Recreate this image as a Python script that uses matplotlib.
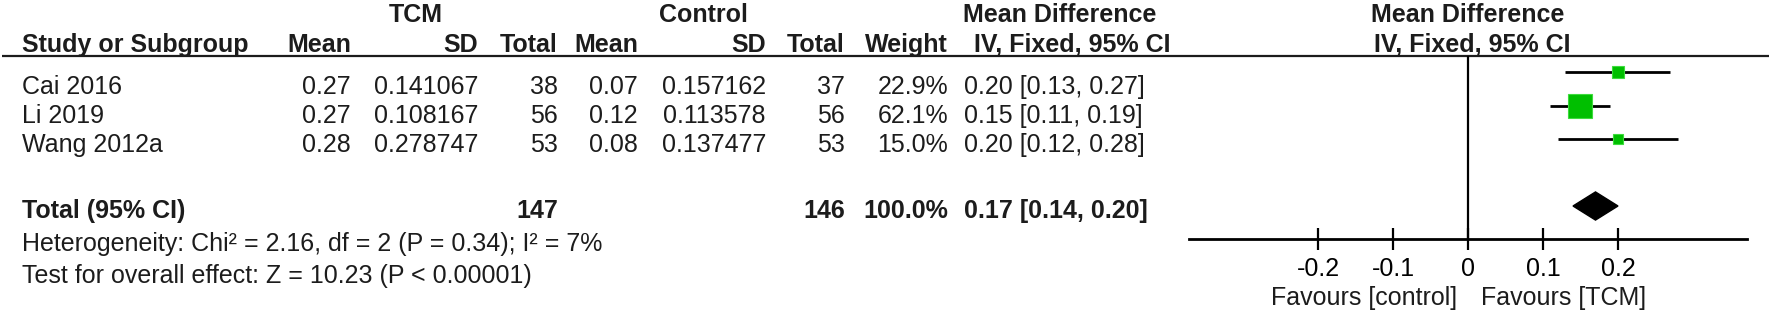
import matplotlib
matplotlib.use("Agg")
import matplotlib.pyplot as plt
import matplotlib.transforms as mtransforms
from matplotlib.patches import Polygon

plt.rcParams['font.family'] = ['Liberation Sans', 'DejaVu Sans']

# data
studies = ["Cai 2016", "Li 2019", "Wang 2012a"]
tcm_mean = [0.27, 0.27, 0.28]
tcm_sd = [0.141067, 0.108167, 0.278747]
tcm_n = [38, 56, 53]
ctl_mean = [0.07, 0.12, 0.08]
ctl_sd = [0.157162, 0.113578, 0.137477]
ctl_n = [37, 56, 53]
weights = [22.9, 62.1, 15.0]
md = [0.20, 0.15, 0.20]
md_lo = [0.13, 0.11, 0.12]
md_hi = [0.27, 0.19, 0.28]
total_md, total_lo, total_hi = 0.17, 0.14, 0.20
heterogeneity = "Heterogeneity: Chi² = 2.16, df = 2 (P = 0.34); I² = 7%"
overall = "Test for overall effect: Z = 10.23 (P < 0.00001)"
xticks = [-0.2, -0.1, 0, 0.1, 0.2]
xtick_labels = ["-0.2", "-0.1", "0", "0.1", "0.2"]

W, H = 1772, 311
fig = plt.figure(figsize=(W / 100, H / 100), dpi=100)

# background axes in pixel coords for the table
bg = fig.add_axes([0, 0, 1, 1])
bg.set_xlim(0, W)
bg.set_ylim(H, 0)
bg.axis("off")

FS = 18
TXT = "#1c1c1c"
GREEN = "#00bf00"

# column right edges / anchors (pixels)
col_x = {"tm": 351, "tsd": 478, "tn": 558, "cm": 638, "csd": 766, "cn": 845, "w": 948, "ci": 964}

def put(x, y, s, ha="left", bold=False):
    bg.text(x, y, s, ha=ha, va="center", fontsize=FS, color=TXT,
            fontweight="bold" if bold else "normal")

# header rows
y_h1, y_h2 = 15, 45
put(416, y_h1, "TCM", ha="center", bold=True)
put(703, y_h1, "Control", ha="center", bold=True)
put(1060, y_h1, "Mean Difference", ha="center", bold=True)
put(1468, y_h1, "Mean Difference", ha="center", bold=True)
put(22, y_h2, "Study or Subgroup", bold=True)
put(col_x["tm"], y_h2, "Mean", ha="right", bold=True)
put(col_x["tsd"], y_h2, "SD", ha="right", bold=True)
put(col_x["tn"], y_h2, "Total", ha="right", bold=True)
put(col_x["cm"], y_h2, "Mean", ha="right", bold=True)
put(col_x["csd"], y_h2, "SD", ha="right", bold=True)
put(col_x["cn"], y_h2, "Total", ha="right", bold=True)
put(col_x["w"], y_h2, "Weight", ha="right", bold=True)
put(1072, y_h2, "IV, Fixed, 95% CI", ha="center", bold=True)
put(1472, y_h2, "IV, Fixed, 95% CI", ha="center", bold=True)
bg.plot([2, 1769], [56, 56], color=TXT, lw=1.6, solid_capstyle="butt")

# study rows
row_y = [87, 116, 145]
for i, name in enumerate(studies):
    y = row_y[i]
    put(22, y, name)
    put(col_x["tm"], y, f"{tcm_mean[i]:.2f}", ha="right")
    put(col_x["tsd"], y, f"{tcm_sd[i]:.6f}", ha="right")
    put(col_x["tn"], y, str(tcm_n[i]), ha="right")
    put(col_x["cm"], y, f"{ctl_mean[i]:.2f}", ha="right")
    put(col_x["csd"], y, f"{ctl_sd[i]:.6f}", ha="right")
    put(col_x["cn"], y, str(ctl_n[i]), ha="right")
    put(col_x["w"], y, f"{weights[i]:.1f}%", ha="right")
    put(col_x["ci"], y, f"{md[i]:.2f} [{md_lo[i]:.2f}, {md_hi[i]:.2f}]")

# total row
y_t = 211
put(22, y_t, "Total (95% CI)", bold=True)
put(col_x["tn"], y_t, str(sum(tcm_n)), ha="right", bold=True)
put(col_x["cn"], y_t, str(sum(ctl_n)), ha="right", bold=True)
put(col_x["w"], y_t, f"{sum(weights):.1f}%", ha="right", bold=True)
put(col_x["ci"], y_t, f"{total_md:.2f} [{total_lo:.2f}, {total_hi:.2f}]", bold=True)
put(22, 244, heterogeneity)
put(22, 276, overall)

# forest plot axes
x0, x1, ytop, ybot = 1189, 1747, 56, 239
fx = fig.add_axes([x0 / W, (H - ybot) / H, (x1 - x0) / W, (ybot - ytop) / H])
fx.patch.set_alpha(0)
row_h = 33.5
fx.set_xlim(-0.372, 0.372)
fx.set_ylim((ybot - 72) / row_h, (ytop - 72) / row_h)
for s in ["top", "left", "right"]:
    fx.spines[s].set_visible(False)
fx.spines["bottom"].set_linewidth(2)
fx.set_yticks([])
fx.set_xticks(xticks)
fx.set_xticklabels(xtick_labels, fontsize=FS, color=TXT)
fx.tick_params(axis="x", direction="inout", length=16, width=1.6, pad=5, colors="black")
fx.axvline(0, color="black", lw=1.6)

for i in range(len(studies)):
    fx.plot([md_lo[i], md_hi[i]], [i, i], color="black", lw=2, solid_capstyle="butt")
    size_px = 4.4 + 0.33 * weights[i]
    fx.plot(md[i], i, marker="s", ms=size_px * 0.72, color=GREEN,
            mec="#3ddc3d", mew=0.8)

# diamond for pooled estimate
ty = 4.0
hh = 0.42
fx.add_patch(Polygon([[total_lo, ty], [total_md, ty - hh], [total_hi, ty], [total_md, ty + hh]],
                     closed=True, color="black"))

tr = mtransforms.blended_transform_factory(fx.transData, bg.transData)
fx.text(-0.015, 298, "Favours [control]", transform=tr, ha="right", va="center",
        fontsize=FS, color=TXT)
fx.text(0.017, 298, "Favours [TCM]", transform=tr, ha="left", va="center",
        fontsize=FS, color=TXT)

fig.savefig("out.png", dpi=100)
